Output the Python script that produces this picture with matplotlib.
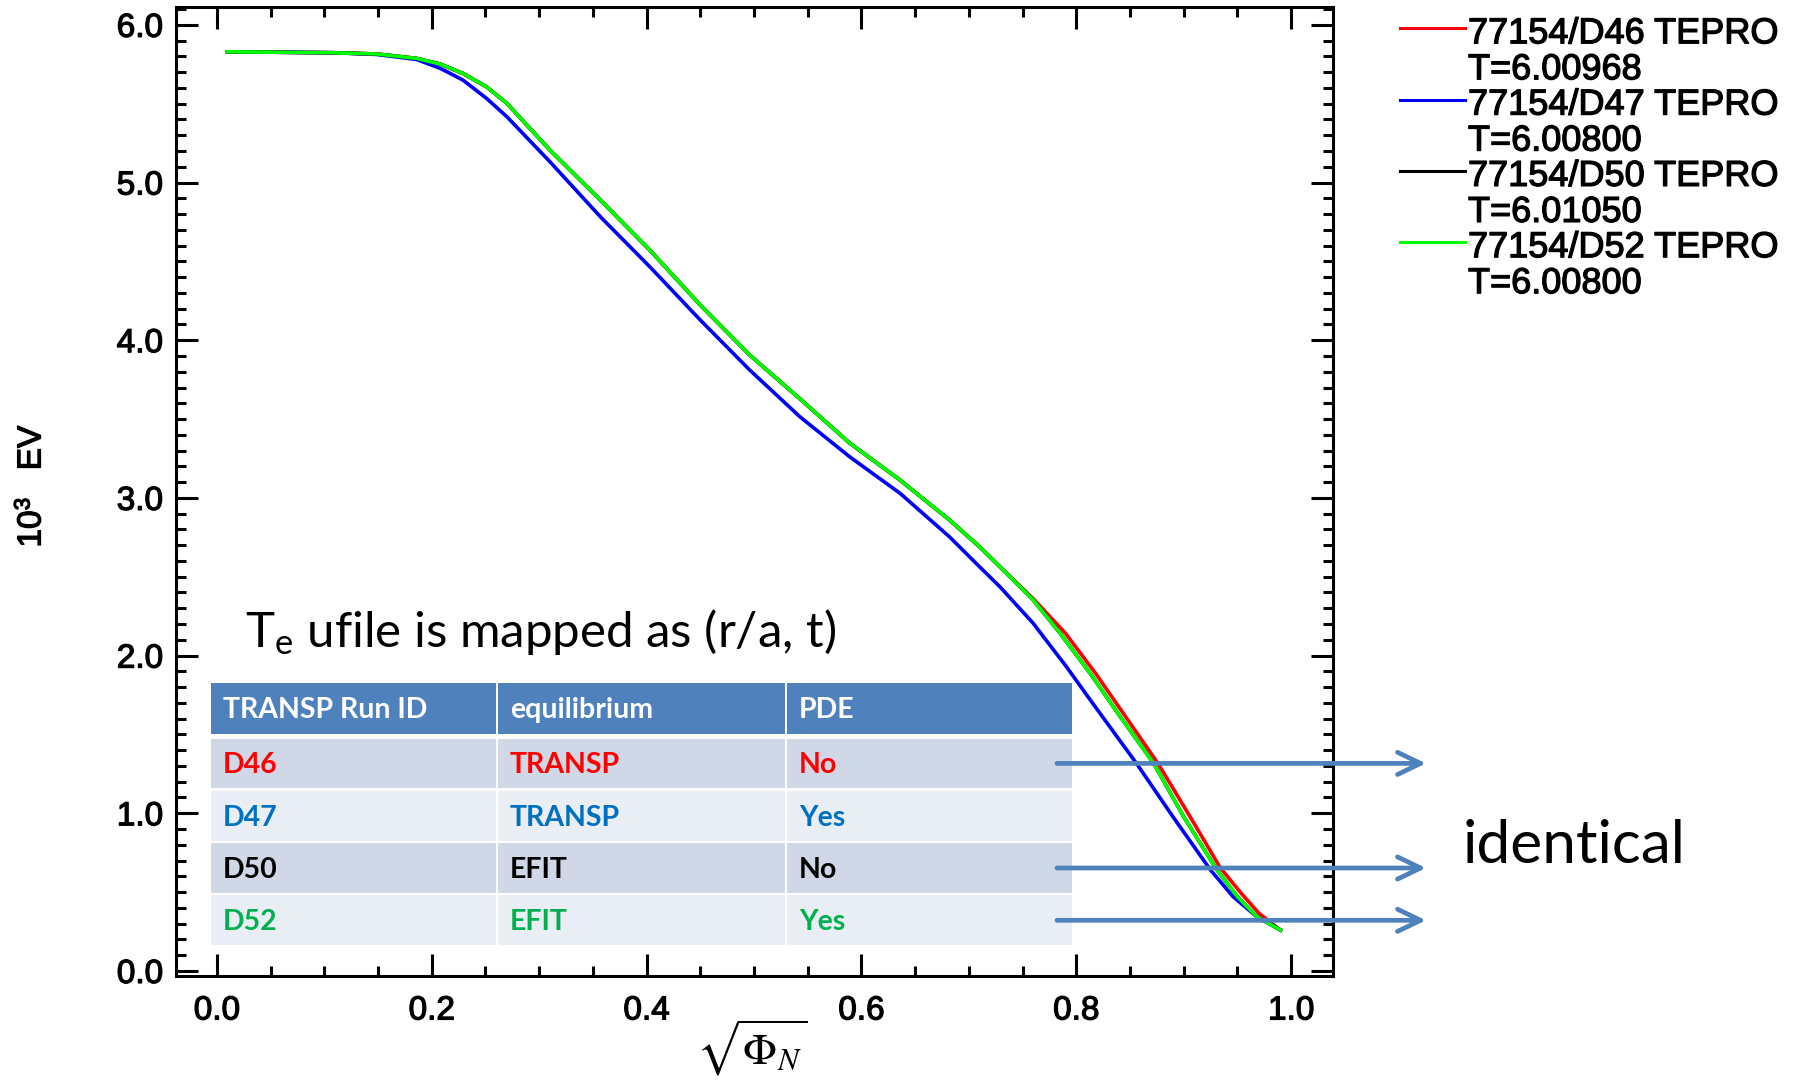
import numpy as np
import matplotlib
matplotlib.use("Agg")
from matplotlib import pyplot as plt
from matplotlib import patheffects
from matplotlib.patches import Rectangle, FancyArrowPatch
from matplotlib.lines import Line2D
from matplotlib.ticker import MultipleLocator, FormatStrFormatter

plt.rcParams['font.family'] = ['Liberation Sans', 'DejaVu Sans']
plt.rcParams['mathtext.fontset'] = 'custom'
plt.rcParams['mathtext.rm'] = 'Lato'
plt.rcParams['mathtext.it'] = 'Lato:italic'

# Te profiles (x = sqrt(Phi_N), y in keV)
x_d46 = [0.010, 0.108, 0.149, 0.186, 0.208, 0.229, 0.251, 0.270, 0.310, 0.357, 0.403, 0.450, 0.496,
         0.543, 0.589, 0.636, 0.682, 0.710, 0.729, 0.760, 0.790, 0.818, 0.846, 0.876, 0.906, 0.934,
         0.953, 0.970, 0.990]
te_d46 = [5.829, 5.823, 5.815, 5.787, 5.751, 5.692, 5.607, 5.502, 5.206, 4.889, 4.572, 4.223, 3.906,
          3.627, 3.348, 3.113, 2.860, 2.690, 2.563, 2.360, 2.141, 1.887, 1.612, 1.317, 0.978, 0.655,
          0.497, 0.366, 0.260]

x_d47 = [0.010, 0.108, 0.149, 0.186, 0.208, 0.229, 0.251, 0.270, 0.310, 0.357, 0.403, 0.450, 0.496,
         0.543, 0.589, 0.636, 0.682, 0.710, 0.729, 0.760, 0.791, 0.813, 0.856, 0.890, 0.925, 0.946,
         0.968, 0.990]
te_d47 = [5.829, 5.823, 5.812, 5.780, 5.724, 5.650, 5.534, 5.417, 5.132, 4.783, 4.466, 4.128, 3.811,
          3.513, 3.261, 3.029, 2.753, 2.563, 2.436, 2.204, 1.928, 1.719, 1.317, 0.978, 0.640, 0.471,
          0.344, 0.260]

x_d50 = [0.010, 0.108, 0.149, 0.186, 0.208, 0.229, 0.251, 0.270, 0.310, 0.357, 0.403, 0.450, 0.496,
         0.543, 0.589, 0.636, 0.682, 0.710, 0.729, 0.760, 0.785, 0.813, 0.841, 0.872, 0.900, 0.931,
         0.950, 0.968, 0.990]
te_d50 = [5.829, 5.823, 5.815, 5.787, 5.751, 5.692, 5.607, 5.502, 5.206, 4.889, 4.572, 4.223, 3.906,
          3.627, 3.348, 3.113, 2.860, 2.690, 2.563, 2.352, 2.141, 1.887, 1.612, 1.317, 0.978, 0.640,
          0.471, 0.344, 0.260]

x_d52 = [0.010, 0.108, 0.149, 0.186, 0.208, 0.229, 0.251, 0.270, 0.310, 0.357, 0.403, 0.450, 0.496,
         0.543, 0.589, 0.636, 0.682, 0.710, 0.729, 0.760, 0.785, 0.813, 0.841, 0.872, 0.900, 0.931,
         0.950, 0.968, 0.990]
te_d52 = [5.829, 5.823, 5.815, 5.787, 5.751, 5.692, 5.607, 5.502, 5.206, 4.889, 4.572, 4.223, 3.906,
          3.627, 3.348, 3.113, 2.860, 2.690, 2.563, 2.352, 2.141, 1.887, 1.612, 1.317, 0.978, 0.640,
          0.471, 0.344, 0.260]

runs = ['77154/D46 TEPRO', '77154/D47 TEPRO', '77154/D50 TEPRO', '77154/D52 TEPRO']
times = ['T=6.00968', 'T=6.00800', 'T=6.01050', 'T=6.00800']
line_colors = ['#ff0000', '#0000ff', '#000000', '#00ff00']

table_head = ['TRANSP Run ID', 'equilibrium', 'PDE']
run_ids = ['D46', 'D47', 'D50', 'D52']
equilibria = ['TRANSP', 'TRANSP', 'EFIT', 'EFIT']
pde = ['No', 'Yes', 'No', 'Yes']
row_text_colors = ['#ff0000', '#0070c0', '#000000', '#00b050']
arrow_rows = [0, 2, 3]

W, H = 1802, 1084
# slightly heavier than regular weight, like the IDL output
heavy = [patheffects.withStroke(linewidth=0.9, foreground='black')]


def fx(px):
    return px / W


def fy(py):
    # pixel rows counted from the top
    return 1 - py / H


fig = plt.figure(figsize=(W / 100, H / 100), dpi=100)
ax = fig.add_axes([fx(176), fy(976), fx(1333) - fx(176), fy(7) - fy(976)])

xs = [x_d46, x_d47, x_d50, x_d52]
ys = [te_d46, te_d47, te_d50, te_d52]
for xv, yv, c in zip(xs, ys, line_colors):
    ax.plot(xv, yv, color=c, lw=2.6)

ax.set_xlim(-0.038, 1.039)
ax.set_ylim(-0.032, 6.113)
ax.xaxis.set_major_locator(MultipleLocator(0.2))
ax.xaxis.set_minor_locator(MultipleLocator(0.05))
ax.yaxis.set_major_locator(MultipleLocator(1.0))
ax.yaxis.set_minor_locator(MultipleLocator(0.1))
ax.xaxis.set_major_formatter(FormatStrFormatter('%.1f'))
ax.yaxis.set_major_formatter(FormatStrFormatter('%.1f'))
ax.tick_params(which='both', direction='in', top=True, right=True, width=2.2, labelsize=24)
ax.tick_params(which='major', length=16)
ax.tick_params(which='minor', length=7.5)
ax.tick_params(axis='y', pad=9.4)
ax.tick_params(axis='x', pad=14)
for sp in ax.spines.values():
    sp.set_linewidth(2.2)

fig.canvas.draw()
for lab in ax.get_xticklabels() + ax.get_yticklabels():
    lab.set_path_effects(heavy)

# y label "10^3  EV", pieced together so it keeps the Arial-like face
fig.text(fx(32), fy(529), '10', rotation=90, ha='center', va='center', fontsize=24, path_effects=heavy)
fig.text(fx(24), fy(504), '3', rotation=90, ha='center', va='center', fontsize=16, path_effects=heavy)
fig.text(fx(32), fy(448), 'EV', rotation=90, ha='center', va='center', fontsize=24, path_effects=heavy)
fig.text(fx(752), fy(1018), r'$\sqrt{\Phi_N}$', math_fontfamily='stix', fontsize=32,
         ha='center', va='top')

# legend on the right
for i in range(len(runs)):
    ly = 28.3 + 71.3 * i
    fig.add_artist(Line2D([fx(1400), fx(1465)], [fy(ly), fy(ly)], color=line_colors[i], lw=2.2))
    fig.text(fx(1468), fy(43.3 + 71.3 * i), runs[i], fontsize=26, va='baseline', path_effects=heavy)
    fig.text(fx(1468), fy(79.3 + 71.3 * i), times[i], fontsize=26, va='baseline', path_effects=heavy)

# overlay: title and table
fig.text(fx(245), fy(646.7), r'T$_{\mathrm{e}}$ ufile is mapped as (r/a, t)', family='Lato',
         fontsize=35.5, va='baseline')

col_edges = [210, 497, 786, 1073]
head_top, head_bot = 683, 733.5
row_top0, row_pitch, row_h = 738.5, 52.3, 49.8


def cell(x0, x1, y0, y1, color):
    fig.add_artist(Rectangle((fx(x0), fy(y1)), fx(x1) - fx(x0), fy(y0) - fy(y1),
                             transform=fig.transFigure, facecolor=color, edgecolor='none'))


for j, h in enumerate(table_head):
    cell(col_edges[j] + 1, col_edges[j + 1] - 1, head_top, head_bot, '#4f81bd')
    fig.text(fx(col_edges[j] + 13), fy((head_top + head_bot) / 2 + 10), h, family='Lato',
             weight='bold', fontsize=20.5, color='white', va='baseline')

for i in range(len(run_ids)):
    y0 = row_top0 + row_pitch * i
    bg = '#d0d8e8' if i % 2 == 0 else '#e9edf4'
    vals = [run_ids[i], equilibria[i], pde[i]]
    for j in range(3):
        cell(col_edges[j] + 1, col_edges[j + 1] - 1, y0, y0 + row_h, bg)
        fig.text(fx(col_edges[j] + 13), fy(y0 + row_h / 2 + 10), vals[j], family='Lato',
                 weight='bold', fontsize=20.5, color=row_text_colors[i], va='baseline')

for i in arrow_rows:
    ay = row_top0 + row_pitch * i + row_h / 2
    arr = FancyArrowPatch((fx(1057), fy(ay)), (fx(1426), fy(ay)), transform=fig.transFigure,
                          arrowstyle='->,head_length=16.6,head_width=8', mutation_scale=1,
                          lw=3.4, color='#4f81bd', shrinkA=0, shrinkB=0, zorder=4)
    fig.add_artist(arr)

fig.text(fx(1463), fy(863), 'identical', family='Lato', fontsize=43.5, va='baseline')

fig.savefig('out.png', dpi=100)
